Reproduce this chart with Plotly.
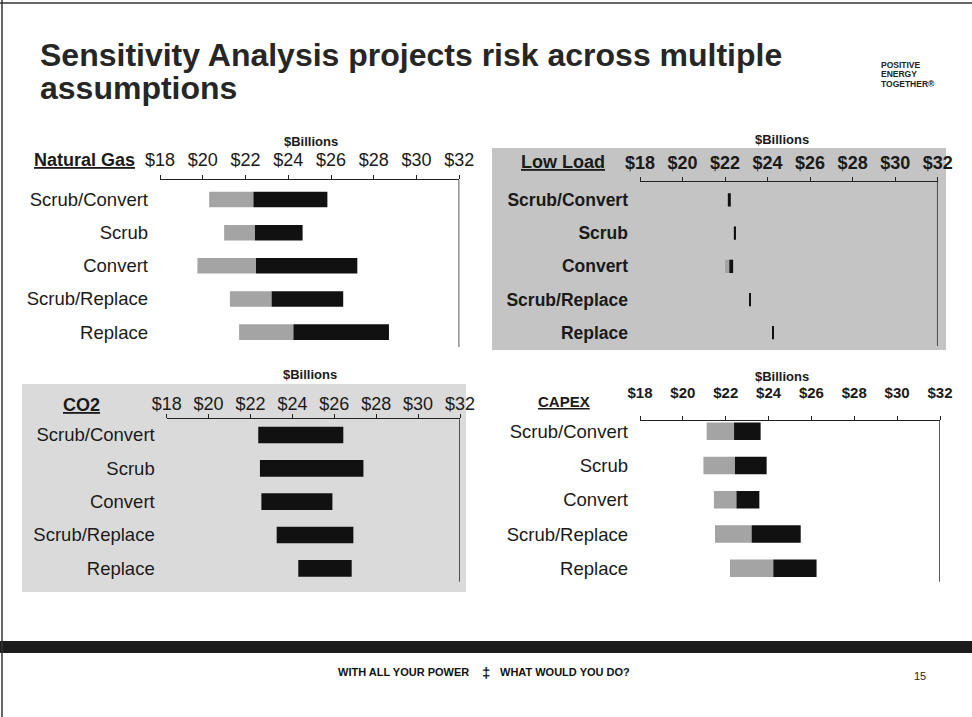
import plotly.graph_objects as go

# ---------------- data ----------------
CATEGORIES = ["Scrub/Convert", "Scrub", "Convert", "Scrub/Replace", "Replace"]
TICK_VALUES = [18, 20, 22, 24, 26, 28, 30, 32]
TICK_LABELS = ["$18", "$20", "$22", "$24", "$26", "$28", "$30", "$32"]
X_MIN, X_MAX = 18, 32
AXIS_UNIT = "$Billions"

PANEL_NAMES = ["Natural Gas", "Low Load", "CO2", "CAPEX"]

# Natural Gas sensitivity ($B): low case, base case, high case
NG_LOW = [20.3, 21.0, 19.75, 21.27, 21.7]
NG_BASE = [22.37, 22.44, 22.49, 23.22, 24.24]
NG_HIGH = [25.83, 24.67, 27.23, 26.57, 28.71]

# Low Load sensitivity ($B)
LL_LOW = [22.1, 22.42, 22.0, 23.14, 24.21]
LL_BASE = [22.18, 22.44, 22.2, 23.17, 24.24]
LL_HIGH = [22.27, 22.47, 22.38, 23.2, 24.27]

# CO2 sensitivity ($B)
CO2_LOW = [22.37, 22.45, 22.52, 23.25, 24.28]
CO2_BASE = [22.37, 22.45, 22.52, 23.25, 24.28]
CO2_HIGH = [26.43, 27.39, 25.91, 26.91, 26.83]

# CAPEX sensitivity ($B)
CAPEX_LOW = [21.11, 20.96, 21.45, 21.5, 22.2]
CAPEX_BASE = [22.39, 22.43, 22.5, 23.21, 24.22]
CAPEX_HIGH = [23.63, 23.91, 23.57, 25.5, 26.24]

TITLE_LINES = ["Sensitivity Analysis projects risk across multiple", "assumptions"]
LOGO_LINES = ["POSITIVE", "ENERGY", "TOGETHER®"]
FOOTER_LEFT = "WITH ALL YOUR POWER"
FOOTER_RIGHT = "WHAT WOULD YOU DO?"
PAGE_NUMBER = "15"

DATA = [
    (NG_LOW, NG_BASE, NG_HIGH),
    (LL_LOW, LL_BASE, LL_HIGH),
    (CO2_LOW, CO2_BASE, CO2_HIGH),
    (CAPEX_LOW, CAPEX_BASE, CAPEX_HIGH),
]

# ---------------- layout geometry (pixels) ----------------
W, H = 972, 717
FONT = "Liberation Sans, Arial, sans-serif"
NARROW = "Liberation Sans Narrow, Arial Narrow, sans-serif"
GRAY = "#a4a4a4"
BLACK = "#111111"
INK = "#1a1a1a"


def px(x):
    return x / W


def py(y):
    return 1 - y / H


PANELS = [
    dict(x0=160, x1=459.3, yt=180, yb=347, yr=[4.45, -0.59], bw=0.47, tfs=18, tb=False, cfs=18.5, cb=False, ts=2,
         name_x=137, name_y=160, name_fs=18, unit_x=311, unit_y=141),
    dict(x0=640, x1=937.7, yt=181.7, yb=346, yr=[4.4, -0.55], bw=0.4, tfs=18, tb=True, cfs=17.5, cb=True, ts=0,
         name_x=607, name_y=162, name_fs=18, unit_x=782, unit_y=139),
    dict(x0=166.7, x1=460, yt=419.3, yb=581.7, yr=[4.4, -0.47], bw=0.5, tfs=18, tb=False, cfs=18.5, cb=False, ts=-3,
         name_x=102, name_y=405, name_fs=18, unit_x=310, unit_y=374),
    dict(x0=640, x1=940, yt=421, yb=581.7, yr=[4.39, -0.3], bw=0.51, tfs=15, tb=True, cfs=18.5, cb=False, ts=12,
         name_x=592, name_y=401, name_fs=15, unit_x=782, unit_y=376),
]

fig = go.Figure()
shapes = []
annotations = []

# scanned-grey backgrounds behind Low Load and CO2 panels
shapes.append(dict(type="rect", xref="paper", yref="paper", x0=px(492), x1=px(946), y0=py(350), y1=py(148),
                   fillcolor="#c4c4c4", line=dict(width=0), layer="below"))
shapes.append(dict(type="rect", xref="paper", yref="paper", x0=px(22), x1=px(466), y0=py(592), y1=py(384),
                   fillcolor="#dadada", line=dict(width=0), layer="below"))

for i, (p, (low, base, high)) in enumerate(zip(PANELS, DATA), start=1):
    xa = f"x{i}" if i > 1 else "x"
    ya = f"y{i}" if i > 1 else "y"
    fig.add_trace(go.Bar(
        y=CATEGORIES, x=[b - l for l, b in zip(low, base)], base=low, orientation="h",
        marker=dict(color=GRAY, line=dict(width=0)), width=p["bw"], xaxis=xa, yaxis=ya,
        showlegend=False, hoverinfo="skip"))
    fig.add_trace(go.Bar(
        y=CATEGORIES, x=[h - b for b, h in zip(base, high)], base=base, orientation="h",
        marker=dict(color=BLACK, line=dict(width=0)), width=p["bw"], xaxis=xa, yaxis=ya,
        showlegend=False, hoverinfo="skip"))

    tick_text = [f"<b>{t}</b>" for t in TICK_LABELS] if p["tb"] else TICK_LABELS
    cat_text = [f"<b>{c}</b>" for c in CATEGORIES] if p["cb"] else CATEGORIES
    xkey = f"xaxis{i}" if i > 1 else "xaxis"
    ykey = f"yaxis{i}" if i > 1 else "yaxis"
    fig.update_layout(**{
        xkey: dict(domain=[px(p["x0"]), px(p["x1"])], anchor=ya, side="top", range=[X_MIN, X_MAX],
                   tickvals=TICK_VALUES, ticktext=tick_text, ticks="outside", ticklen=4, tickwidth=1,
                   tickcolor="#222", showline=True, linecolor="#222", linewidth=1.3, showgrid=False,
                   zeroline=False, tickfont=dict(family=FONT, size=p["tfs"], color=INK),
                   ticklabelstandoff=p["ts"], fixedrange=True),
        ykey: dict(domain=[py(p["yb"]), py(p["yt"])], anchor=xa, type="category",
                   categoryorder="array", categoryarray=CATEGORIES, range=p["yr"],
                   tickvals=CATEGORIES, ticktext=cat_text, ticks="", showline=False, showgrid=False,
                   zeroline=False, tickfont=dict(family=FONT, size=p["cfs"], color=INK),
                   ticklabelstandoff=11, fixedrange=True),
    })
    shapes.append(dict(type="line", xref=xa, yref=f"{ya} domain", x0=X_MAX, x1=X_MAX, y0=0, y1=1,
                       line=dict(color="#222", width=1.5)))
    annotations.append(dict(text=f"<b><u>{PANEL_NAMES[i-1]}</u></b>", xref="paper", yref="paper",
                            x=px(p["name_x"]), y=py(p["name_y"]), xanchor="right", yanchor="middle",
                            showarrow=False, font=dict(family=FONT, size=p["name_fs"], color=INK)))
    annotations.append(dict(text=f"<b>{AXIS_UNIT}</b>", xref="paper", yref="paper",
                            x=px(p["unit_x"]), y=py(p["unit_y"]), xanchor="center", yanchor="middle",
                            showarrow=False, font=dict(family=FONT, size=13, color=INK)))

# slide title
annotations.append(dict(text=f"<b>{TITLE_LINES[0]}</b>", xref="paper", yref="paper", x=px(38), y=py(55),
                        xanchor="left", yanchor="middle", showarrow=False,
                        font=dict(family=FONT, size=32, color="#262626")))
annotations.append(dict(text=f"<b>{TITLE_LINES[1]}</b>", xref="paper", yref="paper", x=px(38), y=py(88),
                        xanchor="left", yanchor="middle", showarrow=False,
                        font=dict(family=FONT, size=32, color="#262626")))
# logo
for k, line in enumerate(LOGO_LINES):
    annotations.append(dict(text=f"<b>{line}</b>", xref="paper", yref="paper", x=px(879), y=py(65 + 9.5 * k),
                            xanchor="left", yanchor="middle", showarrow=False,
                            font=dict(family=FONT, size=8.5, color="#222")))
# footer
annotations.append(dict(text=f"<b>{FOOTER_LEFT}</b>", xref="paper", yref="paper", x=px(471), y=py(672),
                        xanchor="right", yanchor="middle", showarrow=False,
                        font=dict(family=NARROW, size=11, color="#111")))
annotations.append(dict(text="<b>‡</b>", xref="paper", yref="paper", x=px(486), y=py(672),
                        xanchor="center", yanchor="middle", showarrow=False,
                        font=dict(family=FONT, size=15, color="#111")))
annotations.append(dict(text=f"<b>{FOOTER_RIGHT}</b>", xref="paper", yref="paper", x=px(498), y=py(672),
                        xanchor="left", yanchor="middle", showarrow=False,
                        font=dict(family=NARROW, size=11, color="#111")))
annotations.append(dict(text=PAGE_NUMBER, xref="paper", yref="paper", x=px(920), y=py(676),
                        xanchor="center", yanchor="middle", showarrow=False,
                        font=dict(family=FONT, size=11, color="#222")))

# slide decorations: footer band and border lines
shapes.append(dict(type="rect", xref="paper", yref="paper", x0=0, x1=1, y0=py(653), y1=py(641),
                   fillcolor="#1c1c1c", line=dict(width=0)))
shapes.append(dict(type="line", xref="paper", yref="paper", x0=px(2), x1=px(2), y0=0, y1=1,
                   line=dict(color="#333", width=1.5)))
shapes.append(dict(type="line", xref="paper", yref="paper", x0=0, x1=1, y0=py(3), y1=py(3),
                   line=dict(color="#333", width=1.5)))

fig.update_layout(
    width=W, height=H, margin=dict(l=0, r=0, t=0, b=0, autoexpand=False),
    paper_bgcolor="white", plot_bgcolor="rgba(0,0,0,0)", barmode="overlay",
    shapes=shapes, annotations=annotations, showlegend=False,
    font=dict(family=FONT, color=INK),
)

fig.write_html("out.html", config={"displayModeBar": False},
               post_script="document.body.style.margin='0';document.body.style.overflow='hidden';")
